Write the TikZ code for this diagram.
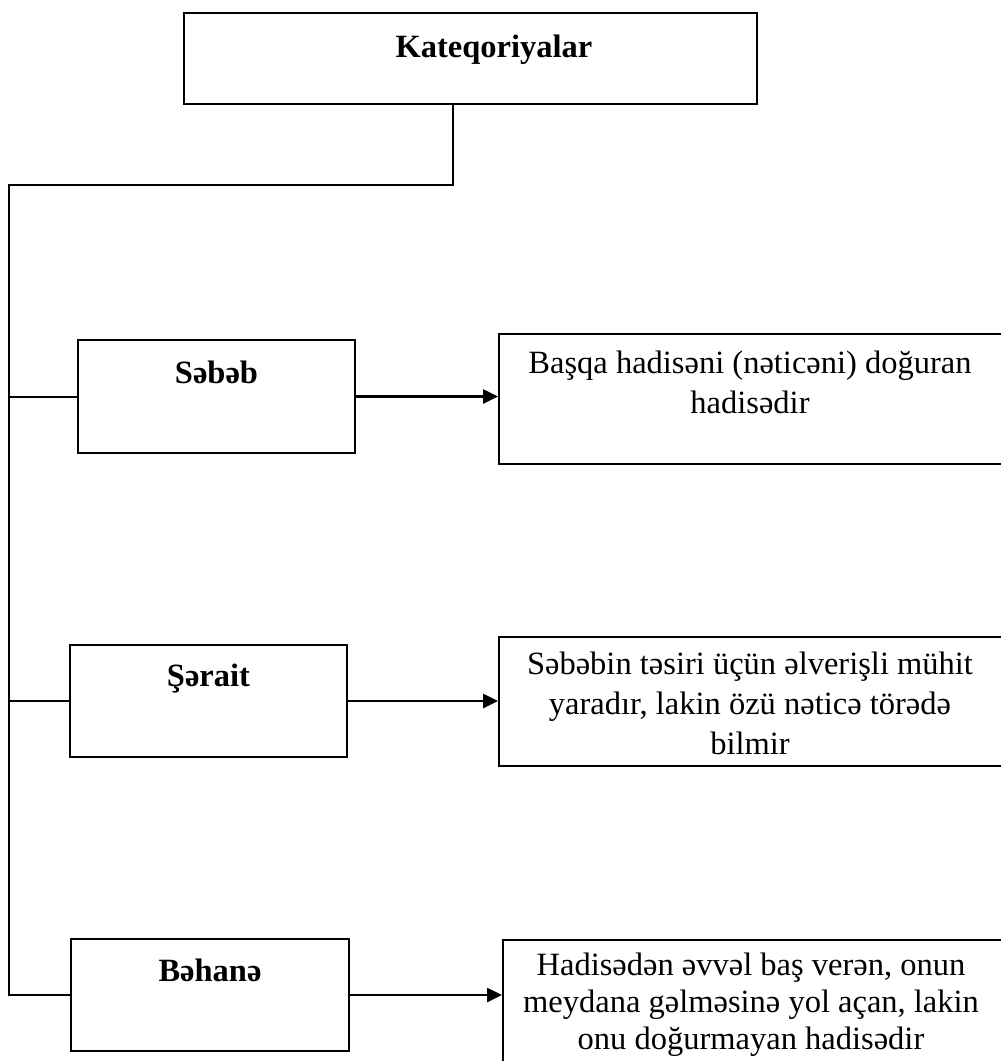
\documentclass[tikz,border=0pt]{standalone}
\usepackage{fontspec}
\setmainfont{Liberation Serif}
\usetikzlibrary{arrows.meta}
\begin{document}
\begin{tikzpicture}[x=1pt,y=-1pt,
  box/.style={draw=black,line width=2pt,inner sep=0pt},
  lbl/.style={font=\fontsize{32.5}{40}\selectfont\bfseries,inner sep=0pt,anchor=base},
  txt/.style={font=\fontsize{32.5}{40}\selectfont,inner sep=0pt,anchor=base,align=center},
  conn/.style={line width=2pt},
  arr/.style={line width=2.6pt,-{Triangle[length=15pt,width=14pt]}}]
\useasboundingbox (0,0) rectangle (1001,1061);
\fill[white] (0,0) rectangle (1001,1061);
% boxes
\node[box,minimum width=573pt,minimum height=91pt] (top) at (470.5,58.5) {};
\node[box,minimum width=277pt,minimum height=113pt] (sebeb) at (216.5,396.5) {};
\node[box,minimum width=277pt,minimum height=112pt] (serait) at (208.5,701) {};
\node[box,minimum width=278pt,minimum height=112pt] (behane) at (210,995) {};
\node[box,minimum width=520pt,minimum height=130pt] (r1) at (759,399) {};
\node[box,minimum width=520pt,minimum height=129pt] (r2) at (759,701.5) {};
\node[box,minimum width=520pt,minimum height=150pt] (r3) at (763,1015) {};
% texts
\node[lbl] (topT) at (494,57) {Kateqoriyalar};
\node[lbl] (sebebT) at (216.5,383) {Səbəb};
\node[lbl] (seraitT) at (208.5,686) {Şərait};
\node[lbl] (behaneT) at (210,981) {Bəhanə};
\node[txt] (r1T) at (750,413) {Başqa hadisəni (nəticəni) doğuran\\hadisədir};
\node[txt] (r2T) at (750,754) {Səbəbin təsiri üçün əlverişli mühit\\yaradır, lakin özü nəticə törədə\\bilmir};
\node[txt,font=\fontsize{32.5}{37}\selectfont] (r3T) at (751,1049) {Hadisədən əvvəl baş verən, onun\\meydana gəlməsinə yol açan, lakin\\onu doğurmayan hadisədir};
% connectors
\coordinate (j1) at (453,185);
\coordinate (j2) at (9,185);
\draw[conn] (top.south -| j1) -- (j1) -- (j2) -- (j2 |- behane.west) -- (behane.west);
\draw[conn] (j2 |- sebeb.west) -- (sebeb.west);
\draw[conn] (j2 |- serait.west) -- (serait.west);
\draw[arr] (sebeb.east) -- (sebeb.east -| r1.west);
\draw[arr] (serait.east) -- (serait.east -| r2.west);
\draw[arr] (behane.east) -- (behane.east -| r3.west);
\end{tikzpicture}
\end{document}
